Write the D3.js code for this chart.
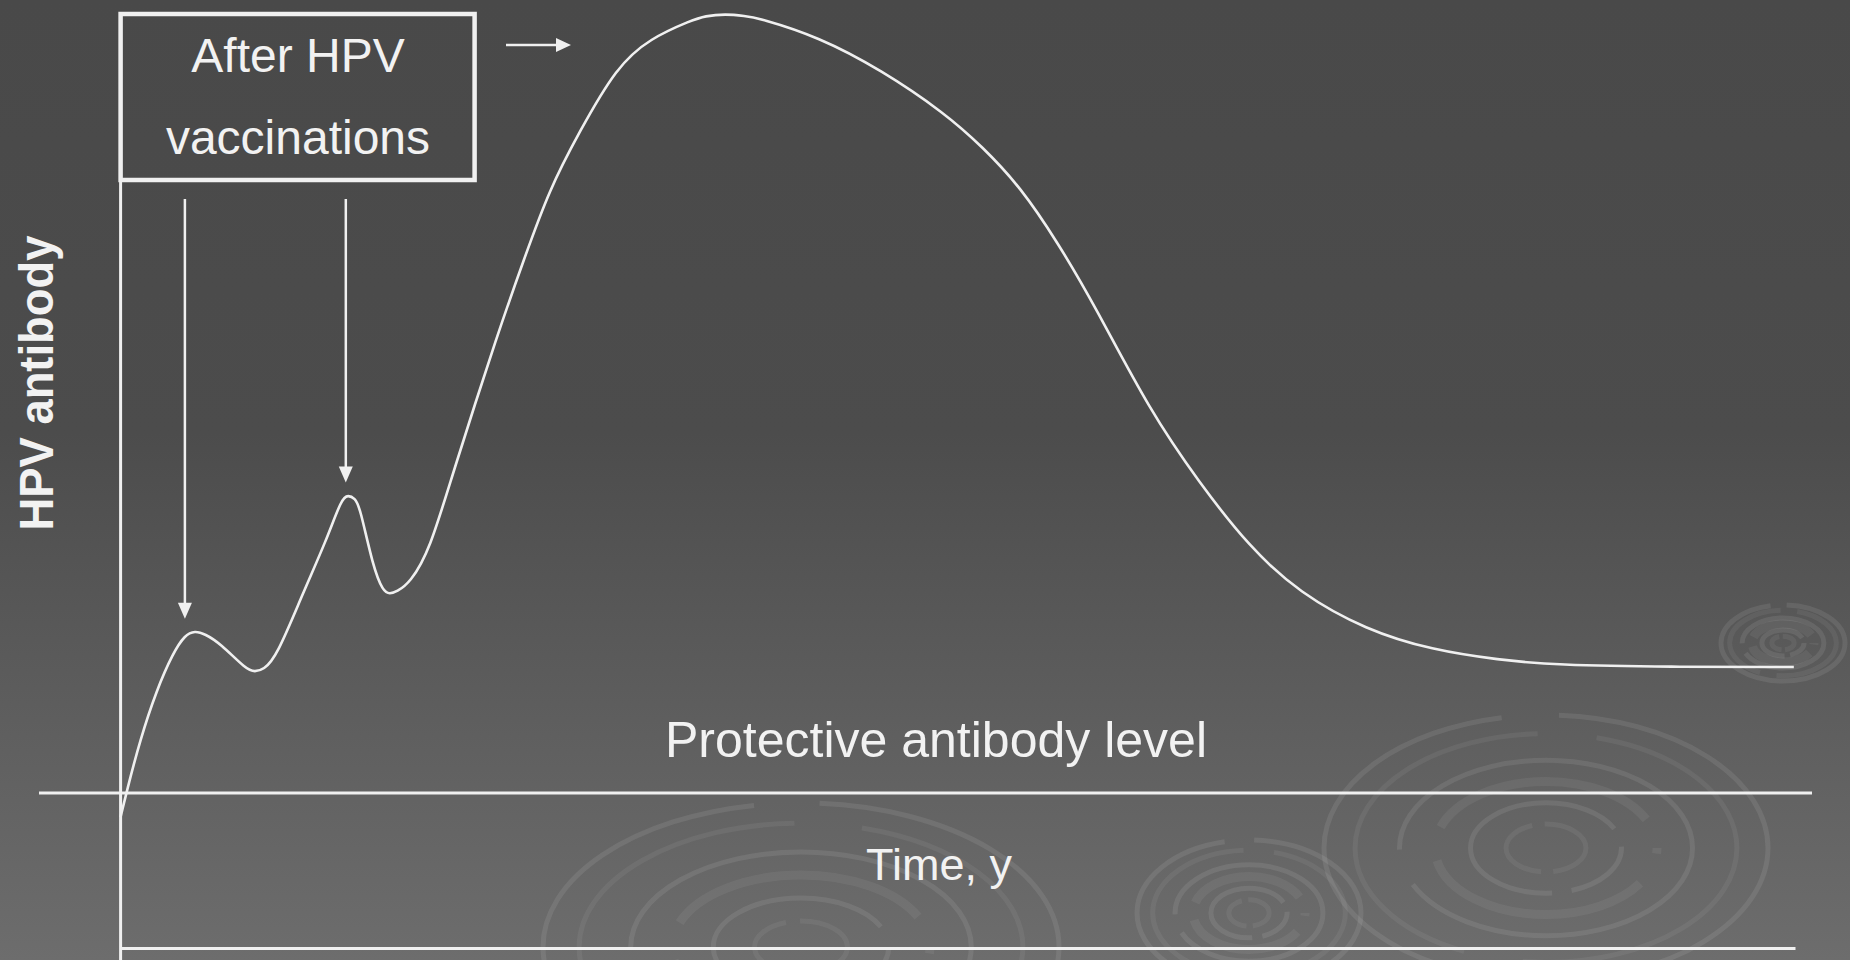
<!DOCTYPE html>
<html>
<head>
<meta charset="utf-8">
<script src="https://cdn.jsdelivr.net/npm/d3@7"></script>
<style>
html, body { margin: 0; padding: 0; background: #4a4a4a; overflow: hidden; }
svg { display: block; }
text { font-family: "Liberation Sans", Arial, sans-serif; fill: #f2f2f2; }
</style>
</head>
<body>
<script>
const WIDTH = 1850;
const HEIGHT = 960;

// antibody response: time and level in arbitrary units (0-100)
const curveTime = [0.00, 0.36, 1.16, 2.15, 3.13, 3.84, 4.44, 5.04, 5.93, 7.53, 8.02, 8.52, 9.32,
    10.89, 12.30, 13.20, 13.59, 13.99, 14.29, 15.07, 15.68, 16.08, 16.48, 17.28, 18.47, 19.84,
    22.59, 24.08, 25.59, 27.36, 29.62, 31.62, 34.14, 34.88, 36.13, 37.27, 38.16, 41.67, 45.44,
    49.21, 51.47, 53.73, 55.99, 58.16, 61.44, 64.43, 67.41, 70.40, 74.39, 78.33, 82.33, 85.67,
    92.53, 99.93];
const curveLevel = [14.04, 16.75, 22.29, 27.65, 31.62, 33.55, 34.01, 33.65, 32.69, 29.80, 29.61, 29.80, 31.22,
    38.05, 43.73, 48.20, 48.55, 48.20, 47.30, 40.87, 38.19, 37.94, 38.19, 39.12, 42.66, 50.91,
    66.24, 73.74, 81.24, 87.35, 94.46, 97.50, 99.46, 99.89, 100.11, 99.89, 99.65, 97.67, 94.10,
    89.50, 85.88, 81.60, 75.56, 68.92, 57.66, 49.84, 42.98, 38.05, 34.08, 31.94, 30.87, 30.33,
    30.12, 30.12];
const vaccinationTimes = [3.84, 13.45];
const vaccinationPeaks = [34.0, 48.6];
const protectiveLevel = 16.61;

const boxLines = ['After HPV', 'vaccinations'];
const protectiveLabel = 'Protective antibody level';
const xLabel = 'Time, y';
const yLabel = 'HPV antibody';

// faint ripple decoration in the background
const ripples = [
    {cx: 1546, cy: 848, rx: 222, ry: 133},
    {cx: 1249, cy: 913, rx: 112, ry: 73},
    {cx: 801, cy: 947, rx: 258, ry: 144},
    {cx: 1783, cy: 643, rx: 62, ry: 38},
];
const ringScales = [1, 0.86, 0.66, 0.5, 0.34, 0.18];


function drawBackground(svg)
{
    const grad = svg.append('defs')
        .append('linearGradient')
        .attr('id', 'bg')
        .attr('x1', 0).attr('y1', 0).attr('x2', 0).attr('y2', 1);
    grad.append('stop').attr('offset', '0%').attr('stop-color', '#494949');
    grad.append('stop').attr('offset', '45%').attr('stop-color', '#4c4c4c');
    grad.append('stop').attr('offset', '100%').attr('stop-color', '#6d6d6d');

    svg.append('rect')
        .attr('width', WIDTH)
        .attr('height', HEIGHT)
        .attr('fill', 'url(#bg)');

    const g = svg.append('g').attr('id', 'ripples');
    ripples.forEach(r => {
        ringScales.forEach((s, i) => {
            const len = 2 * Math.PI * Math.sqrt((r.rx * r.rx + r.ry * r.ry) / 2) * s;
            g.append('ellipse')
                .attr('cx', r.cx)
                .attr('cy', r.cy)
                .attr('rx', r.rx * s)
                .attr('ry', r.ry * s)
                .attr('fill', 'none')
                .attr('stroke', '#ffffff')
                .attr('stroke-opacity', i % 2 ? 0.06 : 0.085)
                .attr('stroke-width', i === 3 ? 9 : 5)
                .attr('stroke-dasharray', i % 2 ? `${len * 0.4} ${len * 0.06}` : `${len * 0.7} ${len * 0.05}`)
                .attr('stroke-dashoffset', len * 0.13 * i);
        });
    });
}

function plot(svg)
{
    const x = d3.scaleLinear().domain([0, 100]).range([120.6, 1795]);
    const y = d3.scaleLinear().domain([0, 100]).range([948, 15]);
    const data = curveTime.map((t, i) => ({t: t, v: curveLevel[i]}));
    const white = '#f0f0f0';

    // y axis line, hanging from the annotation box
    svg.append('line')
        .attr('x1', x(0)).attr('x2', x(0))
        .attr('y1', 182).attr('y2', HEIGHT)
        .attr('stroke', white)
        .attr('stroke-width', 3);

    // time axis
    const xAxis = svg.append('g')
        .attr('transform', `translate(0, ${y(0)})`)
        .call(d3.axisBottom(x).ticks(0).tickSizeOuter(0));
    xAxis.select('.domain').attr('stroke', white).attr('stroke-width', 3);

    // protective level
    svg.append('line')
        .attr('x1', 39).attr('x2', 1812)
        .attr('y1', y(protectiveLevel)).attr('y2', y(protectiveLevel))
        .attr('stroke', white)
        .attr('stroke-width', 3);

    svg.append('text')
        .attr('x', 936)
        .attr('y', 757)
        .attr('text-anchor', 'middle')
        .attr('font-size', 50)
        .text(protectiveLabel);

    svg.append('text')
        .attr('x', 939)
        .attr('y', 880)
        .attr('text-anchor', 'middle')
        .attr('font-size', 45)
        .text(xLabel);

    svg.append('text')
        .attr('transform', 'translate(53, 383) rotate(-90)')
        .attr('text-anchor', 'middle')
        .attr('font-size', 48)
        .attr('font-weight', 'bold')
        .attr('textLength', 295)
        .attr('lengthAdjust', 'spacingAndGlyphs')
        .text(yLabel);

    // antibody curve (b-spline through the read-off points smooths reading noise)
    const line = d3.line()
        .curve(d3.curveBasis)
        .x(d => x(d.t))
        .y(d => y(d.v));
    svg.append('path')
        .attr('d', line(data))
        .attr('fill', 'none')
        .attr('stroke', white)
        .attr('stroke-width', 2.6);

    // annotation box
    svg.append('rect')
        .attr('x', x(0))
        .attr('y', 14)
        .attr('width', 354)
        .attr('height', 166)
        .attr('fill', 'none')
        .attr('stroke', white)
        .attr('stroke-width', 4.5);
    svg.selectAll('text.box')
        .data(boxLines).enter().append('text')
        .attr('class', 'box')
        .attr('x', 298)
        .attr('y', (d, i) => 72 + i * 82)
        .attr('text-anchor', 'middle')
        .attr('font-size', 48)
        .text(d => d);

    // vaccination arrows
    const arrows = svg.append('g').attr('id', 'arrows');
    vaccinationTimes.forEach((t, i) => {
        const ax = x(t);
        const tip = y(vaccinationPeaks[i]) - 12;
        arrows.append('line')
            .attr('x1', ax).attr('x2', ax)
            .attr('y1', 199).attr('y2', tip - 14)
            .attr('stroke', white)
            .attr('stroke-width', 2.5);
        arrows.append('path')
            .attr('d', `M${ax - 7},${tip - 16} L${ax + 7},${tip - 16} L${ax},${tip} Z`)
            .attr('fill', white);
    });

    // arrow pointing on to the later course
    arrows.append('line')
        .attr('x1', 506).attr('x2', 558)
        .attr('y1', 45).attr('y2', 45)
        .attr('stroke', white)
        .attr('stroke-width', 2.5);
    arrows.append('path')
        .attr('d', 'M556,38 L571,45 L556,52 Z')
        .attr('fill', white);
}

function main()
{
    const svg = d3.select('body')
        .append('svg')
        .attr('width', WIDTH)
        .attr('height', HEIGHT);
    drawBackground(svg);
    plot(svg);
}

main();
</script>
</body>
</html>
